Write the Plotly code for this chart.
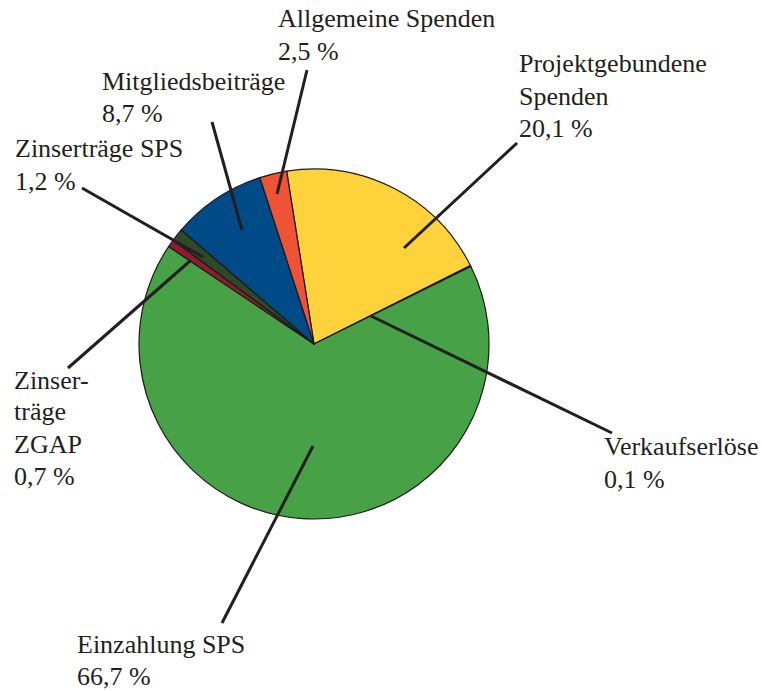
import plotly.graph_objects as go

# ---- data ----
categories = ["Projektgebundene Spenden", "Verkaufserlöse", "Einzahlung SPS",
              "Zinserträge ZGAP", "Zinserträge SPS", "Mitgliedsbeiträge",
              "Allgemeine Spenden"]
values = [20.1, 0.1, 66.7, 0.7, 1.2, 8.7, 2.5]
label_lines = [["Projektgebundene", "Spenden"], ["Verkaufserlöse"], ["Einzahlung SPS"],
               ["Zinser-", "träge", "ZGAP"], ["Zinserträge SPS"], ["Mitgliedsbeiträge"],
               ["Allgemeine Spenden"]]
colors = ["#FDD23A", "#47A247", "#47A247", "#8E1B32", "#2C4A26", "#004B87", "#EE5335"]

# ---- layout (pixels) ----
W, H = 762, 691
CX, CY, R = 314, 344, 175
# label: left x, first baseline y
label_pos = [(517, 73), (602, 456), (75, 653), (12, 389), (13, 158), (100, 90), (276, 28)]
LINE_SP = 32
# leader line: outer (x, y) -> inner (x, y)
leaders = [((517, 143), (404, 248)), ((612, 433), (371, 316)), ((222, 623), (313, 446)),
           ((68, 368), (190, 261)), ((82, 188), (203, 257)), ((212, 122), (242, 230)),
           ((307, 70), (277, 194))]

FS = 26
TXT = "#231f20"
FONT = "Liberation Serif"

def px(x):
    return x / W

def py(y):
    return 1 - y / H

fig = go.Figure(go.Pie(
    labels=categories, values=values, sort=False, direction="clockwise",
    rotation=-9, textinfo="none", hoverinfo="label+percent",
    marker=dict(colors=colors, line=dict(color="#1a1a1a", width=1.2)),
    domain=dict(x=[px(CX - R), px(CX + R)], y=[py(CY + R), py(CY - R)]),
    showlegend=False,
))

annotations = []
for lines, v, (lx, ly) in zip(label_lines, values, label_pos):
    pct = f"{v:.1f}".replace(".", ",") + " %"
    for i, t in enumerate(lines + [pct]):
        base = ly + i * LINE_SP
        annotations.append(dict(
            text=t, x=px(lx), y=py(base - 9), xref="paper", yref="paper",
            xanchor="left", yanchor="middle", showarrow=False,
            font=dict(family=FONT, size=FS, color=TXT)))

shapes = []
for (o, i) in leaders:
    shapes.append(dict(type="line", xref="paper", yref="paper",
                       x0=px(o[0]), y0=py(o[1]), x1=px(i[0]), y1=py(i[1]),
                       line=dict(color=TXT, width=3)))

fig.update_layout(width=W, height=H, autosize=False,
                  margin=dict(l=0, r=0, t=0, b=0),
                  paper_bgcolor="white", plot_bgcolor="white",
                  font=dict(family=FONT),
                  annotations=annotations, shapes=shapes)

fig.write_html("out.html", config={"displayModeBar": False},
               post_script="document.body.style.margin='0';document.body.style.overflow='hidden';")
